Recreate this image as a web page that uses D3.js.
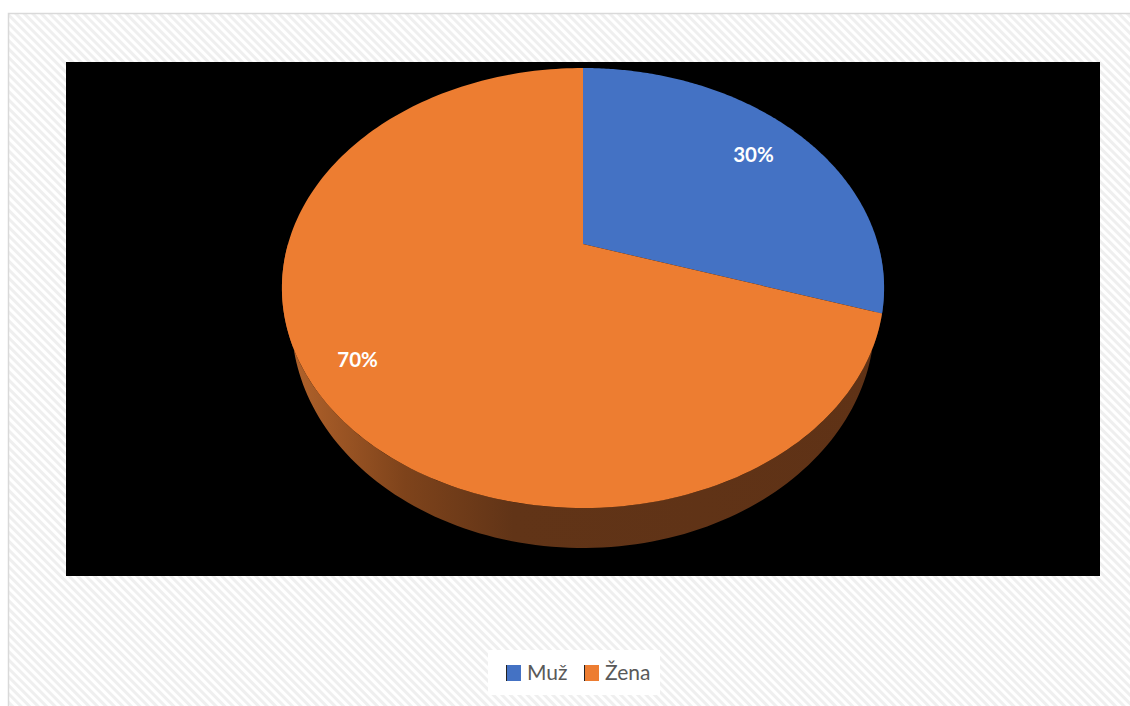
<!DOCTYPE html>
<html><head><meta charset="utf-8">
<script src="https://cdn.jsdelivr.net/npm/d3@7"></script>
<style>html,body{margin:0;padding:0;background:#fff;}svg{display:block;}</style>
</head><body>
<script>
const categories = ["Muž", "Žena"];
const values = [30, 70];
const colors = ["#4472c4", "#ed7d31"];
const sideColors = ["#2b4677", "#5f3216"];
const labels = ["30%", "70%"];

const W = 1130, H = 706;
const svg = d3.select("body").append("svg").attr("width", W).attr("height", H);
const defs = svg.append("defs");
const pat = defs.append("pattern").attr("id", "hatch").attr("patternUnits", "userSpaceOnUse")
  .attr("width", 6).attr("height", 6).attr("patternTransform", "rotate(-45)");
pat.append("rect").attr("width", 6).attr("height", 6).attr("fill", "#ffffff");
pat.append("rect").attr("width", 3).attr("height", 6).attr("fill", "#efefef");

svg.append("rect").attr("x", 8.5).attr("y", 13.5).attr("width", 1140).attr("height", 720)
  .attr("fill", "url(#hatch)").attr("stroke", "#d9d9d9").attr("stroke-width", 1.5);

// plot area
svg.append("rect").attr("x", 66).attr("y", 62).attr("width", 1034).attr("height", 514).attr("fill", "#000");

// perspective projection of a tilted disc
const cx = 583, cy = 244, A = 295, B = 211.2, c = 0.2, depth = 32, shrink = 0.968;
function proj(theta, r, dz) {
  const s = Math.sin(theta) * r, co = Math.cos(theta) * r;
  const den = 1 + c * co;
  const k = dz ? shrink : 1;
  return [cx + k * A * s / den, cy - B * co / den + (dz || 0) / den];
}
const line = d3.line();
const pie = d3.pie().sort(null).value(d => d)(values);

// side gradient
const grad = defs.append("linearGradient").attr("id", "sideGrad").attr("gradientUnits", "userSpaceOnUse")
  .attr("x1", 285).attr("x2", 885).attr("y1", 0).attr("y2", 0);
grad.append("stop").attr("offset", 0).attr("stop-color", "#b4642c");
grad.append("stop").attr("offset", 0.2).attr("stop-color", "#7e431b");
grad.append("stop").attr("offset", 0.38).attr("stop-color", "#613417");
grad.append("stop").attr("offset", 1).attr("stop-color", "#5f3216");

const tL = Math.PI / 2, tR = 3 * Math.PI / 2;
const gSide = svg.append("g");
pie.forEach((p, i) => {
  const a0 = Math.max(p.startAngle, tL), a1 = Math.min(p.endAngle, tR);
  if (a1 <= a0) return;
  const n = 120, pts = [];
  for (let k = 0; k <= n; k++) pts.push(proj(a0 + (a1 - a0) * k / n, 1, 0));
  for (let k = n; k >= 0; k--) pts.push(proj(a0 + (a1 - a0) * k / n, 1, depth));
  gSide.append("path").attr("d", line(pts) + "Z")
    .attr("fill", i === 1 ? "url(#sideGrad)" : sideColors[i]);
});

const gTop = svg.append("g");
pie.forEach((p, i) => {
  const n = 200, pts = [proj(0, 0)];
  for (let k = 0; k <= n; k++) pts.push(proj(p.startAngle + (p.endAngle - p.startAngle) * k / n, 1));
  gTop.append("path").attr("d", line(pts) + "Z").attr("fill", colors[i]);
});

const labelR = [0.78, 0.85];
pie.forEach((p, i) => {
  const m = (p.startAngle + p.endAngle) / 2;
  const [x, y] = proj(m, labelR[i]);
  svg.append("text").attr("x", x).attr("y", y + 1).attr("text-anchor", "middle")
    .attr("dominant-baseline", "middle")
    .attr("font-family", "Lato, 'Open Sans', sans-serif").attr("font-weight", "bold")
    .attr("font-size", 20.5).attr("fill", "#fff").text(labels[i]);
});

// legend
const leg = svg.append("g");
leg.append("rect").attr("x", 488).attr("y", 650).attr("width", 172).attr("height", 45).attr("fill", "#fff");
const legX = [506, 584];
categories.forEach((cat, i) => {
  leg.append("rect").attr("x", legX[i]).attr("y", 665).attr("width", 15).attr("height", 16).attr("fill", colors[i]);
  leg.append("line").attr("x1", legX[i] + 0.5).attr("x2", legX[i] + 0.5).attr("y1", 665).attr("y2", 681)
    .attr("stroke", "#222").attr("stroke-width", 1);
  leg.append("text").attr("x", legX[i] + 21).attr("y", 680)
    .attr("font-family", "Lato, 'Open Sans', sans-serif").attr("font-size", 21).attr("fill", "#595959").text(cat);
});
</script>
</body></html>
